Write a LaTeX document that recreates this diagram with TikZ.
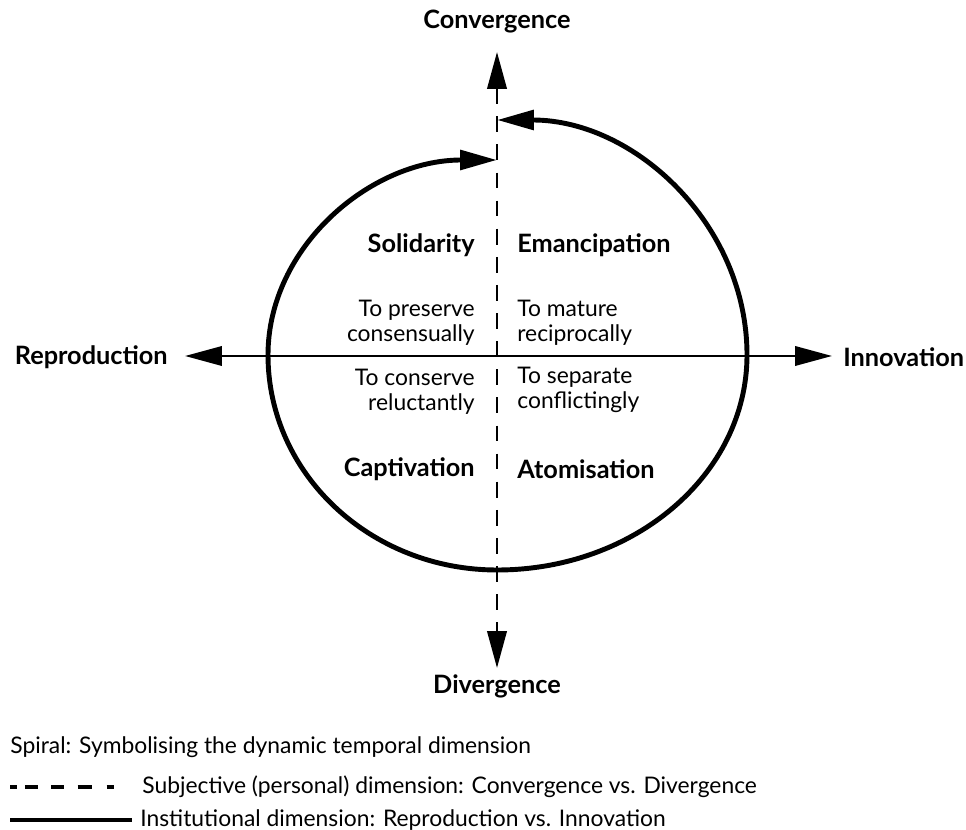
\documentclass[tikz,border=0pt]{standalone}
\usepackage{fontspec}
\setmainfont{Lato}
\usetikzlibrary{arrows.meta}
\begin{document}
\begin{tikzpicture}[x=0.02cm,y=-0.02cm,
  txt/.style={font=\fontsize{13}{14.3}\selectfont, inner sep=0pt},
  head/.style={font=\fontsize{14.4}{16}\selectfont\bfseries, inner sep=0pt},
  lcol/.style={txt, anchor=east, align=right},
  rcol/.style={txt, anchor=west, align=left},
  spiral/.style={line width=2.8pt},
  axis/.style={line width=1.4pt},
  subj/.style={line width=1.6pt, dash pattern=on 9pt off 7pt}]
\useasboundingbox (0,0) rectangle (966,830);
% axis end points
\coordinate (T) at (497,52);
\coordinate (B) at (497,668);
\coordinate (L) at (185,356);
\coordinate (R) at (832,356);
% axis labels
\node[head] (conv) at (497,22) {Convergence};
\node[head] (div) at (497,686) {Divergence};
\node[head, anchor=east] (repro) at (168,357) {Reproduction};
\node[head, anchor=west] (innov) at (843,357) {Innovation};
% axes
\draw[axis, {Triangle[length=21pt,width=11pt]}-{Triangle[length=21pt,width=11pt]}] (L) -- (R);
\draw[subj, {Triangle[length=21pt,width=11pt]}-{Triangle[length=21pt,width=11pt]}] (T) -- (B);
% spiral
\coordinate (s1) at (497,120);
\coordinate (s2) at (747,355);
\coordinate (s3) at (497,570);
\coordinate (s4) at (268,355);
\coordinate (s5) at (497,160);
\draw[spiral, {Triangle[length=21pt,width=11pt]}-{Triangle[length=21pt,width=11pt]}]
  (s1) .. controls (635,120) and (747,225) .. (s2)
       .. controls (747,474) and (635,570) .. (s3)
       .. controls (370.5,570) and (268,474) .. (s4)
       .. controls (268,247) and (370.5,160) .. (s5);
% quadrant labels
\node[head, anchor=east] (sol) at (475,245) {Solidarity};
\node[head, anchor=west] (eman) at (517,245) {Emancipation};
\node[lcol] (pres) at (475,323) {To preserve\\consensually};
\node[rcol] (mat) at (517,323) {To mature\\reciprocally};
\node[lcol] (cons) at (475,392) {To conserve\\reluctantly};
\node[rcol] (sep) at (517,390) {To separate\\conflictingly};
\node[head, anchor=east] (capt) at (475,469) {Captivation};
\node[head, anchor=west] (atom) at (517,469) {Atomisation};
% legend
\node[txt, anchor=west] (leg1) at (10,747) {Spiral: Symbolising the dynamic temporal dimension};
\coordinate (d1) at (10,787);
\coordinate (d2) at (118,787);
\draw[line width=2pt, dash pattern=on 4pt off 4.5pt on 7.5pt off 7.5pt on 7.5pt off 7.5pt on 8pt off 8.5pt on 4pt off 20pt] (d1) -- (d2);
\node[txt, anchor=west] (leg2) at (142,787) {Subjective (personal) dimension: Convergence vs. Divergence};
\coordinate (c1) at (10,820);
\coordinate (c2) at (132,820);
\draw[line width=2pt] (c1) -- (c2);
\node[txt, anchor=west] (leg3) at (140,820) {Institutional dimension: Reproduction vs. Innovation};
\end{tikzpicture}
\end{document}
